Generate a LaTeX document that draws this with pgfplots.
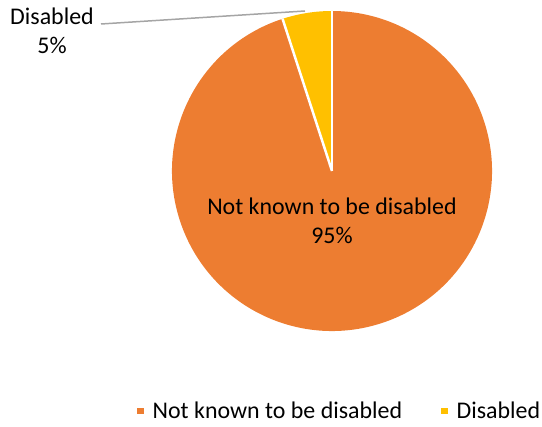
\documentclass[border=0pt]{standalone}
\usepackage{pgfplots}
\pgfplotsset{compat=1.18}
\usepackage{fontspec}
\setmainfont{Carlito}
\definecolor{cOrange}{HTML}{ED7D31}
\definecolor{cYellow}{HTML}{FFC000}
\definecolor{cLead}{HTML}{A5A5A5}
\newcommand{\lblfont}{\fontsize{24}{29}\selectfont}
\begin{document}
\begin{tikzpicture}
% data (percent)
\def\vNotKnown{95}
\def\vDisabled{5}
\pgfmathsetmacro{\aA}{90}
\pgfmathsetmacro{\aB}{90+3.6*\vDisabled}
\pgfmathsetmacro{\aC}{\aB+3.6*\vNotKnown}
\begin{axis}[
  name=ax,
  scale only axis, width=542bp, height=427bp,
  xmin=0, xmax=542, ymin=-427, ymax=0,
  hide axis, clip=false,
  legend columns=2,
  legend style={draw=none, fill=none, font=\lblfont,
    at={(axis cs:137,-411)}, anchor=west, inner sep=0pt,
    nodes={inner xsep=0pt, inner ysep=0pt},
    /tikz/every even column/.append style={column sep=39bp}},
  legend cell align=left,
  legend image code/.code={\fill[#1] (0bp,-3.2bp) rectangle (6.5bp,3.2bp); \path (15.5bp,0bp);},
]
\addlegendimage{fill=cOrange, draw=none}
\addlegendentry{Not known to be disabled}
\addlegendimage{fill=cYellow, draw=none}
\addlegendentry{Disabled}
% slices
\fill[cYellow] (axis cs:332,-171) -- ++(\aA:160bp) arc[start angle=\aA, end angle=\aB, radius=160bp] -- cycle;
\fill[cOrange] (axis cs:332,-171) -- ++(\aB:160bp) arc[start angle=\aB, end angle=\aC, radius=160bp] -- cycle;
\draw[white, line width=2.5bp] (axis cs:332,-171) -- ++(\aA:160bp);
\draw[white, line width=2.5bp] (axis cs:332,-171) -- ++(\aB:160bp);
% labels
\node[font=\lblfont, align=center] at (axis cs:332,-221) {Not known to be disabled\\95\%};
\draw[cLead, line width=1.5pt] (axis cs:101,-24) -- (axis cs:305,-11);
\node[font=\lblfont, align=center] at (axis cs:52,-31) {Disabled\\5\%};
\end{axis}
\pgfresetboundingbox
\useasboundingbox (ax.south west) rectangle (ax.north east);
\end{tikzpicture}
\end{document}
